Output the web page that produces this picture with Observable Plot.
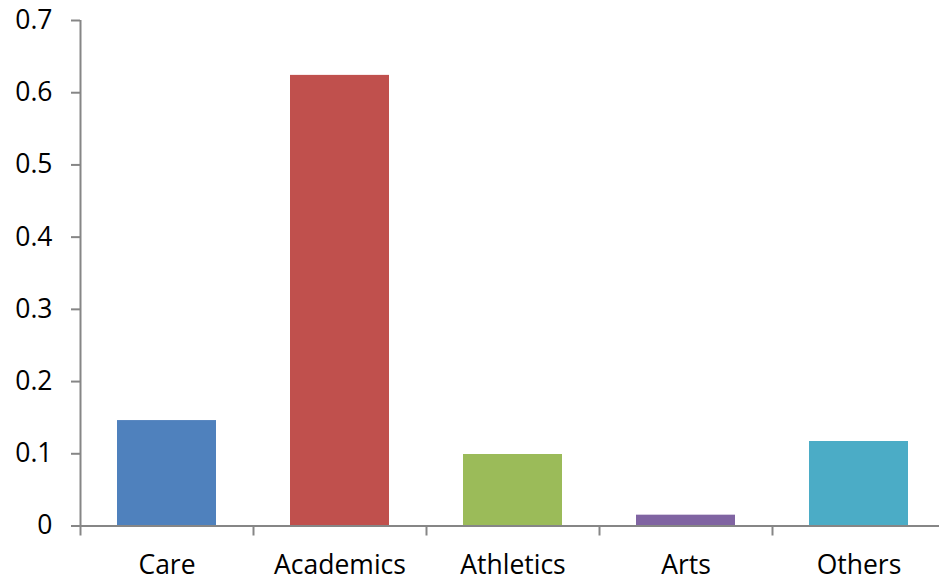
<!DOCTYPE html>
<html>
<head>
<meta charset="utf-8">
<script src="https://cdn.jsdelivr.net/npm/d3@7"></script>
<script src="https://cdn.jsdelivr.net/npm/@observablehq/plot@0.6"></script>
<style>
  html, body { margin: 0; padding: 0; background: #fff; }
</style>
</head>
<body>
<div id="chart"></div>
<script>
const categories = ["Care", "Academics", "Athletics", "Arts", "Others"];
const values = [0.146, 0.624, 0.099, 0.015, 0.117];
const colors = ["#4F81BD", "#C0504D", "#9BBB59", "#8064A2", "#4BACC6"];
const yTicks = [0, 0.1, 0.2, 0.3, 0.4, 0.5, 0.6, 0.7];

const data = categories.map((c, i) => ({category: c, value: values[i]}));

const xStart = 80, xEnd = 945;
const halfStep = (xEnd - xStart) / categories.length / 2;
const axisGray = "#868686";

const chart = Plot.plot({
  width: 939,
  height: 582,
  marginTop: 20,
  marginBottom: 56.5,
  marginLeft: 80,
  marginRight: 0,
  style: {fontFamily: "'Open Sans', sans-serif", fontSize: "26.5px", color: "#000", background: "#fff"},
  x: {domain: categories, range: [xStart, xEnd], paddingInner: 0.428, paddingOuter: 0.214},
  y: {domain: [0, 0.7]},
  color: {domain: categories, range: colors},
  marks: [
    Plot.barY(data, {x: "category", y: "value", fill: "category"}),
    Plot.ruleY([0], {stroke: axisGray, strokeWidth: 2}),
    Plot.ruleX([categories[0]], {dx: -halfStep, y1: 0, y2: 0.7, stroke: axisGray, strokeWidth: 2}),
    Plot.ruleX(categories, {x: d => d, dx: -halfStep, y1: 0, y2: 0, insetBottom: -10, stroke: axisGray, strokeWidth: 2}),
    Plot.ruleX([categories[categories.length - 1]], {dx: halfStep, y1: 0, y2: 0, insetBottom: -10, stroke: axisGray, strokeWidth: 2}),
    Plot.axisY({ticks: yTicks, tickSize: 9, tickPadding: 19, tickFormat: d => String(d), stroke: axisGray, strokeWidth: 2, fill: "#000", label: null}),
    Plot.axisX({tickSize: 0, tickPadding: 29, fill: "#000", label: null})
  ]
});
document.getElementById("chart").appendChild(chart);
</script>
</body>
</html>
